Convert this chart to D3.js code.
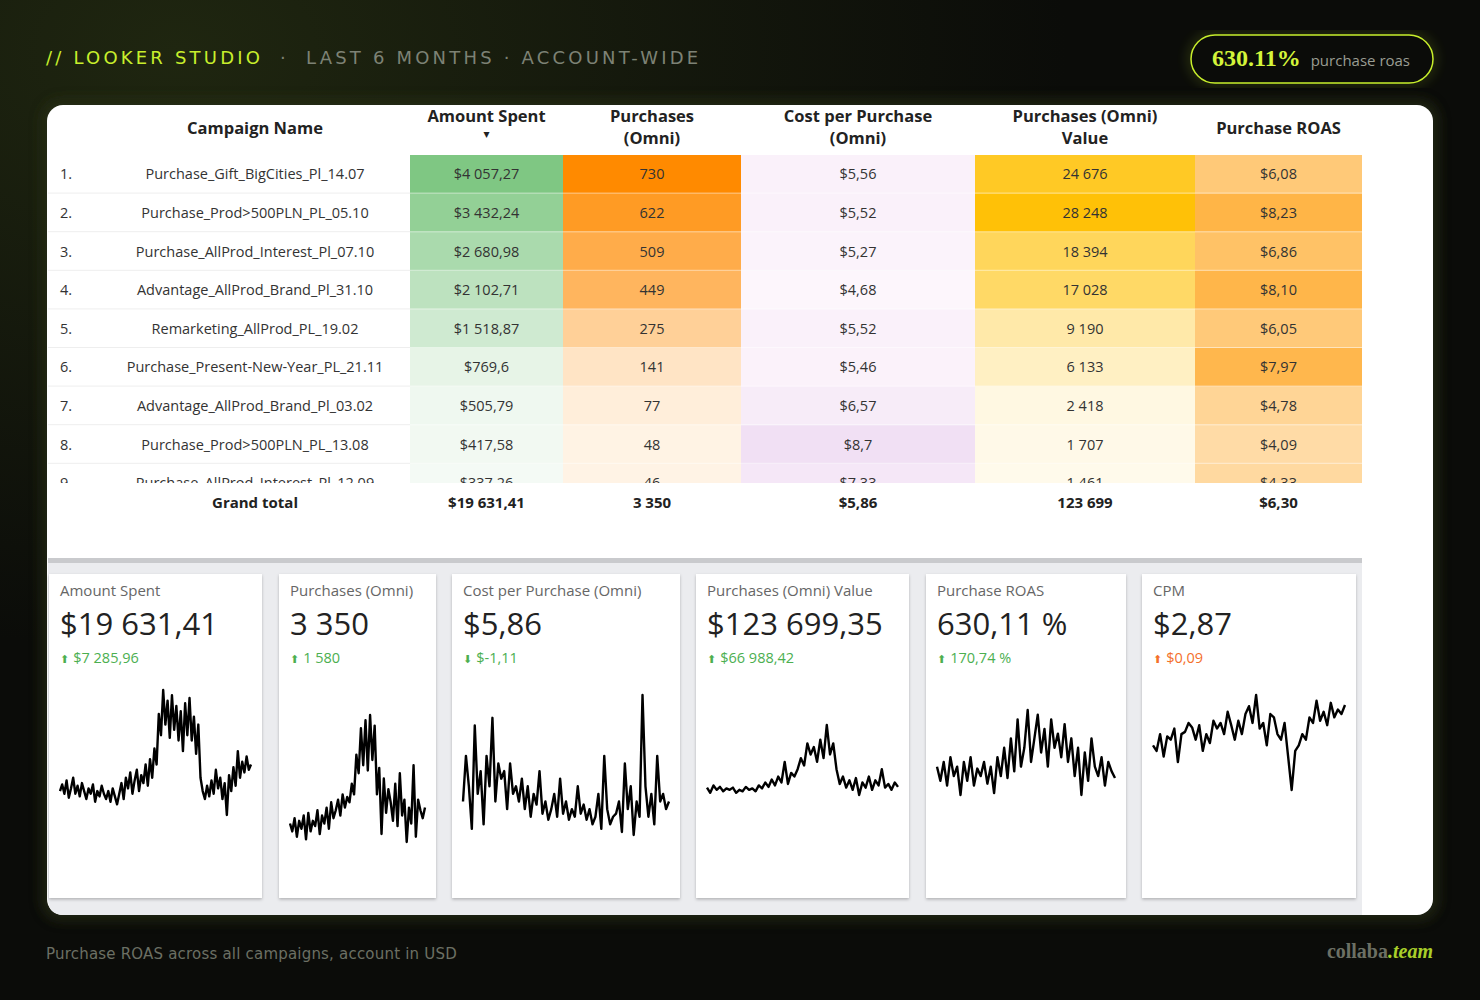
<!DOCTYPE html>
<html><head><meta charset="utf-8">
<script src="https://cdn.jsdelivr.net/npm/d3@7"></script>
<style>
body{margin:0;background:#0b0c09;}
svg{display:block;font-family:"Open Sans","DejaVu Sans",sans-serif;}
</style></head><body>
<svg id="c" width="1480" height="1000"></svg>
<script>
// table data
const campaigns = ["Purchase_Gift_BigCities_Pl_14.07","Purchase_Prod>500PLN_PL_05.10","Purchase_AllProd_Interest_Pl_07.10","Advantage_AllProd_Brand_Pl_31.10","Remarketing_AllProd_PL_19.02","Purchase_Present-New-Year_PL_21.11","Advantage_AllProd_Brand_Pl_03.02","Purchase_Prod>500PLN_PL_13.08","Purchase_AllProd_Interest_Pl_12.09"];
const amountSpent = [4057.27,3432.24,2680.98,2102.71,1518.87,769.6,505.79,417.58,337.26];
const purchases = [730,622,509,449,275,141,77,48,46];
const costPerPurchase = [5.56,5.52,5.27,4.68,5.52,5.46,6.57,8.7,7.33];
const purchaseValue = [24676,28248,18394,17028,9190,6133,2418,1707,1461];
const roas = [6.08,8.23,6.86,8.10,6.05,7.97,4.78,4.09,4.33];
const amountLabels = ["$4 057,27","$3 432,24","$2 680,98","$2 102,71","$1 518,87","$769,6","$505,79","$417,58","$337,26"];
const cppLabels = ["$5,56","$5,52","$5,27","$4,68","$5,52","$5,46","$6,57","$8,7","$7,33"];
const valueLabels = ["24 676","28 248","18 394","17 028","9 190","6 133","2 418","1 707","1 461"];
const roasLabels = ["$6,08","$8,23","$6,86","$8,10","$6,05","$7,97","$4,78","$4,09","$4,33"];
const totals = ["$19 631,41","3 350","$5,86","123 699","$6,30"];

// scorecards
const cardTitles = ["Amount Spent","Purchases (Omni)","Cost per Purchase (Omni)","Purchases (Omni) Value","Purchase ROAS","CPM"];
const cardValues = ["$19 631,41","3 350","$5,86","$123 699,35","630,11 %","$2,87"];
const cardDeltas = ["$7 285,96","1 580","$-1,11","$66 988,42","170,74 %","$0,09"];
const deltaUp = [true,true,false,true,true,true];
const deltaGood = [true,true,true,true,true,false];

// sparkline series (daily)
const sparkAmount = [20,25,18,28,15,22,30,18,24,16,26,20,14,22,18,25,12,20,16,24,18,14,20,12,22,16,10,18,26,14,30,22,34,18,28,36,20,32,26,40,24,44,30,52,40,78,62,96,70,88,60,92,66,84,58,80,50,86,62,90,58,76,48,70,30,20,14,24,16,28,18,36,22,30,14,26,2,32,20,38,24,50,30,42,34,46,36,40];
const sparkPurch = [18,12,22,8,20,14,24,6,26,12,20,16,28,10,24,18,30,14,34,22,28,36,24,40,30,38,34,48,40,70,56,90,62,96,58,100,66,92,40,60,10,52,26,44,34,20,48,16,56,24,36,4,30,18,62,8,36,28,22,30];
const sparkCpp = [30,60,40,12,80,35,50,15,60,40,85,30,55,45,50,25,55,35,40,30,45,25,40,20,35,28,50,22,30,18,25,35,20,45,22,30,18,25,20,40,22,28,18,25,15,20,35,12,60,25,15,20,22,30,10,55,25,40,8,30,20,100,40,20,35,15,60,30,35,25,30];
const sparkValue = [15,8,18,12,16,10,14,12,15,8,12,10,16,12,14,10,18,14,22,16,26,18,30,22,50,20,35,30,40,55,45,75,60,70,50,80,55,100,60,75,40,20,30,15,25,12,28,5,22,15,30,12,25,18,40,15,20,12,22,16];
const sparkRoas = [40,25,45,20,50,30,40,10,45,25,50,20,38,30,45,22,40,12,50,30,60,28,70,35,90,40,60,100,45,70,95,55,80,40,90,60,75,50,85,45,70,30,60,10,55,25,70,40,30,50,20,45,35,28];
const sparkCpm = [50,45,60,40,58,55,65,35,60,62,70,66,55,68,45,60,52,72,65,70,60,80,68,55,72,60,78,85,70,95,65,70,50,78,75,60,55,70,40,10,45,50,60,55,75,70,90,72,80,68,88,75,82,78,86];
const sparks = [sparkAmount,sparkPurch,sparkCpp,sparkValue,sparkRoas,sparkCpm];

const svg = d3.select("#c");
const defs = svg.append("defs");
const glow = defs.append("radialGradient").attr("id","bg").attr("cx","0.12").attr("cy","0.05").attr("r","0.6");
glow.append("stop").attr("offset","0").attr("stop-color","#1f2610");
glow.append("stop").attr("offset","1").attr("stop-color","#0b0c09");
svg.append("rect").attr("width",1480).attr("height",1000).attr("fill","url(#bg)");
const blur = defs.append("filter").attr("id","blur").attr("x","-10%").attr("y","-10%").attr("width","120%").attr("height","120%");
blur.append("feGaussianBlur").attr("stdDeviation",6);
const shadow = defs.append("filter").attr("id","sh");
shadow.append("feDropShadow").attr("dx",0).attr("dy",1.5).attr("stdDeviation",1.5).attr("flood-color","#000").attr("flood-opacity",0.25);

// header
const hdrFont = "'DejaVu Sans',sans-serif";
svg.append("text").attr("x",46).attr("y",64).attr("font-size",18).attr("letter-spacing",3.2)
  .attr("font-family",hdrFont).attr("fill","#c8ef2c").text("// LOOKER STUDIO");
svg.append("text").attr("x",280).attr("y",64).attr("font-size",18).attr("font-family",hdrFont).attr("fill","#7d8275").text("·");
svg.append("text").attr("x",306).attr("y",64).attr("font-size",18).attr("letter-spacing",3.2)
  .attr("font-family",hdrFont).attr("fill","#7d8275").text("LAST 6 MONTHS · ACCOUNT-WIDE");

svg.append("rect").attr("x",1191).attr("y",35).attr("width",242).attr("height",48).attr("rx",24)
  .attr("fill","none").attr("stroke","#c8ef2c").attr("stroke-width",5).attr("opacity",0.25).attr("filter","url(#blur)");
svg.append("rect").attr("x",1191).attr("y",35).attr("width",242).attr("height",48).attr("rx",24)
  .attr("fill","#0b0c09").attr("stroke","#c8ef2c").attr("stroke-width",1.5);
const pill = svg.append("text").attr("x",1212).attr("y",66);
pill.append("tspan").attr("fill","#d4f53a").attr("font-size",24).attr("font-weight","bold")
  .attr("font-family","'Liberation Serif',serif").text("630.11%");
pill.append("tspan").attr("fill","#9a9d92").attr("font-size",15).attr("dx",10).text("purchase roas");

// card
svg.append("rect").attr("x",41).attr("y",99).attr("width",1398).attr("height",822).attr("rx",20)
  .attr("fill","#2a3312").attr("opacity",0.6).attr("filter","url(#blur)");
svg.append("rect").attr("x",47).attr("y",105).attr("width",1386).attr("height",810).attr("rx",16).attr("fill","#fff");

// table
const cols = [
  {x0:48,x1:410},{x0:410,x1:563},{x0:563,x1:741},{x0:741,x1:975},{x0:975,x1:1195},{x0:1195,x1:1362}
];
const headers = [["Campaign Name"],["Amount Spent","▾"],["Purchases","(Omni)"],["Cost per Purchase","(Omni)"],["Purchases (Omni)","Value"],["Purchase ROAS"]];
headers.forEach((h,i)=>{
  const cx = (cols[i].x0+cols[i].x1)/2;
  const y0 = h.length===1 ? 134 : 122;
  h.forEach((line,j)=>{
    svg.append("text").attr("x",i===0?255:cx).attr("y",y0+j*(line==="▾"?16:22)).attr("text-anchor","middle")
      .attr("font-size",line==="▾"?12:16.5).attr("font-weight","bold").attr("fill","#222").text(line);
  });
});

const rowH = 38.6, tableTop = 155, clipBottom = 483;
const y = d3.scaleBand().domain(d3.range(campaigns.length)).range([tableTop, tableTop+rowH*campaigns.length]);
defs.append("clipPath").attr("id","tc").append("rect").attr("x",48).attr("y",tableTop).attr("width",1320).attr("height",clipBottom-tableTop);
const tg = svg.append("g").attr("clip-path","url(#tc)");

const cAmount = d3.scaleLinear().domain([0,d3.max(amountSpent)]).range(["#ffffff","#7fc783"]);
const cPurch = d3.scaleLinear().domain([0,d3.max(purchases)]).range(["#fffaf4","#ff8a00"]);
const cCpp = d3.scaleLinear().domain([d3.min(costPerPurchase),d3.max(costPerPurchase)]).range(["#fdf6fc","#f1e0f4"]);
const cValue = d3.scaleLinear().domain([0,d3.max(purchaseValue)]).range(["#fffdf7","#ffc107"]);
const cRoas = d3.scaleLinear().domain([4,d3.max(roas)]).range(["#ffdca8","#ffb547"]);
const colData = [
  {vals:amountSpent,lab:amountLabels,col:cAmount},
  {vals:purchases,lab:purchases.map(String),col:cPurch},
  {vals:costPerPurchase,lab:cppLabels,col:cCpp},
  {vals:purchaseValue,lab:valueLabels,col:cValue},
  {vals:roas,lab:roasLabels,col:cRoas}
];

campaigns.forEach((name,r)=>{
  const ry = y(r), cy = ry+rowH/2+5;
  tg.append("line").attr("x1",48).attr("x2",410).attr("y1",ry+rowH-0.5).attr("y2",ry+rowH-0.5).attr("stroke","#eeeeee");
  tg.append("text").attr("x",60).attr("y",cy).attr("font-size",14.5).attr("fill","#333").text((r+1)+".");
  tg.append("text").attr("x",255).attr("y",cy).attr("text-anchor","middle").attr("font-size",14.5).attr("fill","#333").text(name);
  colData.forEach((c,i)=>{
    const col = cols[i+1];
    tg.append("rect").attr("x",col.x0).attr("y",ry).attr("width",col.x1-col.x0).attr("height",rowH)
      .attr("fill",c.col(c.vals[r]));
    tg.append("line").attr("x1",col.x0).attr("x2",col.x1).attr("y1",ry+rowH-0.5).attr("y2",ry+rowH-0.5).attr("stroke","#ffffff").attr("stroke-opacity",0.5);
    tg.append("text").attr("x",(col.x0+col.x1)/2).attr("y",cy).attr("text-anchor","middle")
      .attr("font-size",14.5).attr("fill","#333").text(c.lab[r]);
  });
});
svg.append("text").attr("x",255).attr("y",508).attr("text-anchor","middle").attr("font-size",15).attr("font-weight","bold").attr("fill","#222").text("Grand total");
totals.forEach((t,i)=>{
  const col = cols[i+1];
  svg.append("text").attr("x",(col.x0+col.x1)/2).attr("y",508).attr("text-anchor","middle")
    .attr("font-size",15).attr("font-weight","bold").attr("fill","#222").text(t);
});

// scorecard area
svg.append("rect").attr("x",48).attr("y",558).attr("width",1314).attr("height",5).attr("fill","#c9cacd");
svg.append("path").attr("d","M48,563H1362V915H64Q48,915 48,899Z").attr("fill","#ebecef");
const cardsX = [[49,262],[279,436],[452,680],[696,909],[926,1126],[1142,1356]];
const sparkY = [[690,815],[715,842],[695,835],[725,795],[710,795],[695,790]];
cardsX.forEach(([x0,x1],i)=>{
  const g = svg.append("g");
  g.append("rect").attr("x",x0).attr("y",574).attr("width",x1-x0).attr("height",324).attr("fill","#fff").attr("filter","url(#sh)");
  g.append("text").attr("x",x0+11).attr("y",596).attr("font-size",15).attr("fill","#666").text(cardTitles[i]);
  g.append("text").attr("x",x0+11).attr("y",635).attr("font-size",31).attr("fill","#222").text(cardValues[i]);
  const d = g.append("text").attr("x",x0+11).attr("y",663).attr("font-size",14.5).attr("fill",deltaGood[i]?"#4caf50":"#f4702a");
  d.append("tspan").attr("font-size",11).text(deltaUp[i]?"⬆":"⬇");
  d.append("tspan").attr("dx",4).text(cardDeltas[i]);
  const data = sparks[i];
  const sx = d3.scaleLinear().domain([0,data.length-1]).range([x0+11,x1-11]);
  const sy = d3.scaleLinear().domain(d3.extent(data)).range([sparkY[i][1],sparkY[i][0]]);
  g.append("path").datum(data).attr("fill","none").attr("stroke","#000").attr("stroke-width",2.4).attr("stroke-linejoin","round")
    .attr("d",d3.line().x((d,k)=>sx(k)).y(d=>sy(d)));
});

// footer
svg.append("text").attr("x",46).attr("y",959).attr("font-size",15).attr("fill","#6c7064").attr("letter-spacing",0.2)
  .attr("font-family","'DejaVu Sans',sans-serif").text("Purchase ROAS across all campaigns, account in USD");
const brand = svg.append("text").attr("x",1433).attr("y",958).attr("text-anchor","end").attr("font-size",20)
  .attr("font-family","'Liberation Serif',serif").attr("font-weight","bold");
brand.append("tspan").attr("fill","#6c7064").text("collaba");
brand.append("tspan").attr("fill","#a9cf2a").attr("font-style","italic").text(".team");
</script>
</body></html>
